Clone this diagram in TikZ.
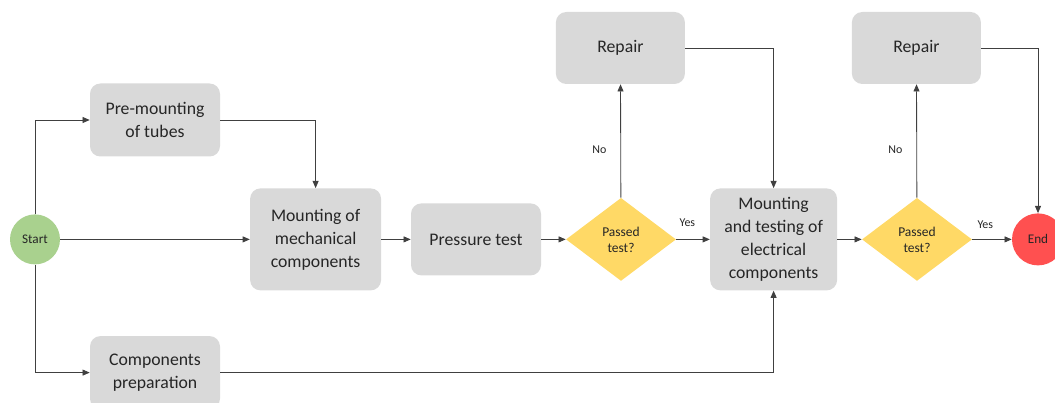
\documentclass[tikz,border=0pt]{standalone}
\usepackage{fontspec}
\setmainfont{Carlito}
\usepackage{tikz}
\usetikzlibrary{arrows.meta,positioning,shapes.geometric}
\definecolor{boxgray}{HTML}{D9D9D9}
\definecolor{checkyellow}{HTML}{FFD966}
\definecolor{startgreen}{HTML}{A9D18E}
\definecolor{endred}{HTML}{FF5050}
\definecolor{ink}{HTML}{262626}
\definecolor{wire}{HTML}{404040}

\begin{document}
\begin{tikzpicture}[
  task/.style={fill=boxgray, rounded corners=2.6mm, align=center, text=ink,
    inner sep=0pt, minimum width=3.25cm, minimum height=1.825cm,
    font=\fontsize{12.6}{16.4}\selectfont},
  check/.style={diamond, fill=checkyellow, align=center, text=ink,
    inner sep=0pt, minimum width=2.75cm, minimum height=2.075cm,
    font=\fontsize{9.6}{11.4}\selectfont},
  terminal/.style={circle, inner sep=0pt, text=ink,
    font=\fontsize{9.4}{11}\selectfont},
  flow/.style={draw=wire, line width=0.6pt,
    -{Triangle[length=1.8mm, width=1.5mm]}},
  answer/.style={text=ink, inner sep=0pt, font=\fontsize{8.5}{10}\selectfont}]
\useasboundingbox (0,0) rectangle (26.375,10.075);
\clip (0,0) rectangle (26.375,10.075);
\node (start) [terminal, fill=startgreen, minimum size=1.25cm] at (0.875,4.09) {Start};
\node (pre) [task] at (3.875,7.075) {Pre-mounting\\of tubes};
\node (prep) [task] at (3.875,0.76) {Components\\preparation};
\node (mech) [task, minimum width=3.275cm, minimum height=2.55cm] at (7.89,4.09)
  {Mounting of\\mechanical\\components};
\node (press) [task, minimum height=1.8cm] at (11.9,4.09) {Pressure test};
\node (chk1) [check] at (15.525,4.09) {Passed\\test?};
\node (rep1) [task, minimum width=3.225cm, minimum height=1.8cm] at (15.51,8.875) {Repair};
\node (elec) [task, minimum width=3.175cm, minimum height=2.55cm] at (19.34,4.09)
  {Mounting\\and testing of\\electrical\\components};
\node (chk2) [check] at (22.925,4.09) {Passed\\test?};
\node (rep2) [task, minimum width=3.225cm, minimum height=1.8cm] at (22.91,8.875) {Repair};
\node (end) [terminal, fill=endred, minimum size=1.3cm] at (25.95,4.09) {End};
\draw[flow] (start.north) |- (pre.west);
\draw[flow] (start.south) |- (prep.west);
\draw[flow] (start) -- (mech);
\draw[flow] (pre.east) -| (mech.north);
\draw[flow] (mech) -- (press);
\draw[flow] (press) -- (chk1);
\draw[flow] (chk1) -- node[answer, pos=0.42, left=3.5mm] {No} (rep1);
\draw[flow] (chk1) -- node[answer, pos=0.33, above=3mm] {Yes} (elec);
\draw[flow] (rep1.east) -| (elec.north);
\draw[flow] (prep.east) -| (elec.south);
\draw[flow] (elec) -- (chk2);
\draw[flow] (chk2) -- node[answer, pos=0.42, left=3.5mm] {No} (rep2);
\draw[flow] (chk2) -- node[answer, pos=0.33, above=2.5mm] {Yes} (end);
\draw[flow] (rep2.east) -| (end.north);
\end{tikzpicture}
\end{document}
